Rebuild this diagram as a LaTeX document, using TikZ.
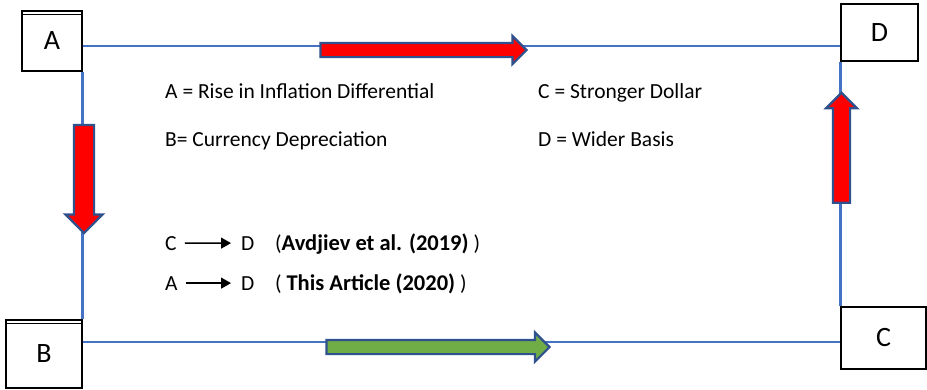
\documentclass[tikz,border=0pt]{standalone}
\usepackage{fontspec}
\setmainfont{Carlito}
\usetikzlibrary{arrows.meta, shapes.arrows, positioning}
\definecolor{linkblue}{HTML}{4472C4}
\definecolor{edgeblue}{HTML}{2F528F}
\definecolor{upgreen}{HTML}{70AD47}
\newcommand{\RefName}[1]{{\fontsize{22.5}{25}\selectfont\bfseries #1}}
\tikzset{
    box/.style={draw, line width=1.3pt, fill=white, font=\fontsize{28}{32}\selectfont},
    doubletop/.style={path picture={
        \draw[line width=1pt] ([yshift=-3pt]path picture bounding box.north west)
          -- ([yshift=-3pt]path picture bounding box.north east);}},
    link/.style={draw=linkblue, line width=2.4pt},
    blockarrow/.style={single arrow, draw=edgeblue, line width=2.2pt,
        inner xsep=0pt, single arrow head indent=0pt},
    lbl/.style={inner sep=0pt, font=\fontsize{21.5}{25}\selectfont},
    minarrow/.style={-{Triangle[length=10pt,width=11pt]}, line width=1.3pt},
}

\begin{document}
\begin{tikzpicture}[x=1pt, y=-1pt]
    \useasboundingbox (0,0) rectangle (927,389);

    % connectors first, boxes on top
    \node[box, doubletop, minimum width=60pt, minimum height=60pt] (A) at (52,41) {A};
    \node[box, doubletop, minimum width=76pt, minimum height=68pt] (B) at (44,354) {B};
    \node[box, minimum width=85pt, minimum height=62pt] (C) at (883.5,338) {C};
    \node[box, minimum width=77pt, minimum height=57pt] (D) at (879.5,32.5) {D};

    \draw[link] ([yshift=-5pt]A.east) -- ([yshift=-5pt]A.east -| D.west);
    \draw[link] (A.south east) -- (B.north east);
    \draw[link] ([yshift=12pt]B.east) -- ([yshift=12pt]B.east -| C.west);
    \draw[link] (C.north west) -- (D.south west);

    % block arrows on the edges
    \node[blockarrow, fill=red, inner ysep=6pt, single arrow head extend=7pt,
          minimum height=206pt] (AtoD) at (420,50) {};
    \node[blockarrow, fill=upgreen, inner ysep=6pt, single arrow head extend=7.5pt,
          minimum height=223pt] (BtoC) at (434.5,347) {};
    \node[blockarrow, fill=red, inner ysep=9pt, single arrow head extend=8.5pt,
          minimum height=108pt, rotate=-90] (AtoB) at (84,174) {};
    \node[blockarrow, fill=red, inner ysep=7.5pt, single arrow head extend=7pt,
          minimum height=110pt, rotate=90] (CtoD) at (841.5,152) {};

    % legend
    \node[lbl, anchor=base west] (defA) at (165,98) {A = Rise in Inflation Differential};
    \node[lbl, anchor=base west] (defC) at (538,98) {C = Stronger Dollar};
    \node[lbl, anchor=base west] (defB) at (165,146) {B= Currency Depreciation};
    \node[lbl, anchor=base west] (defD) at (538,146) {D = Wider Basis};

    \node[lbl, anchor=base west] (c1) at (165,250) {C};
    \node[lbl, anchor=base west] (d1) at (241,250) {D};
    \node[lbl, anchor=base west] (ref1) at (275,250) {(\RefName{Avdjiev et al. (2019)} )};
    \draw[minarrow, shorten <=8pt, shorten >=10pt] (c1) -- (d1);

    \node[lbl, anchor=base west] (a2) at (165,290) {A};
    \node[lbl, anchor=base west] (d2) at (241,290) {D};
    \node[lbl, anchor=base west] (ref2) at (275,290) {(\ \RefName{This Article (2020)}\ )};
    \draw[minarrow, shorten <=8pt, shorten >=10pt] (a2) -- (d2);
\end{tikzpicture}
\end{document}
